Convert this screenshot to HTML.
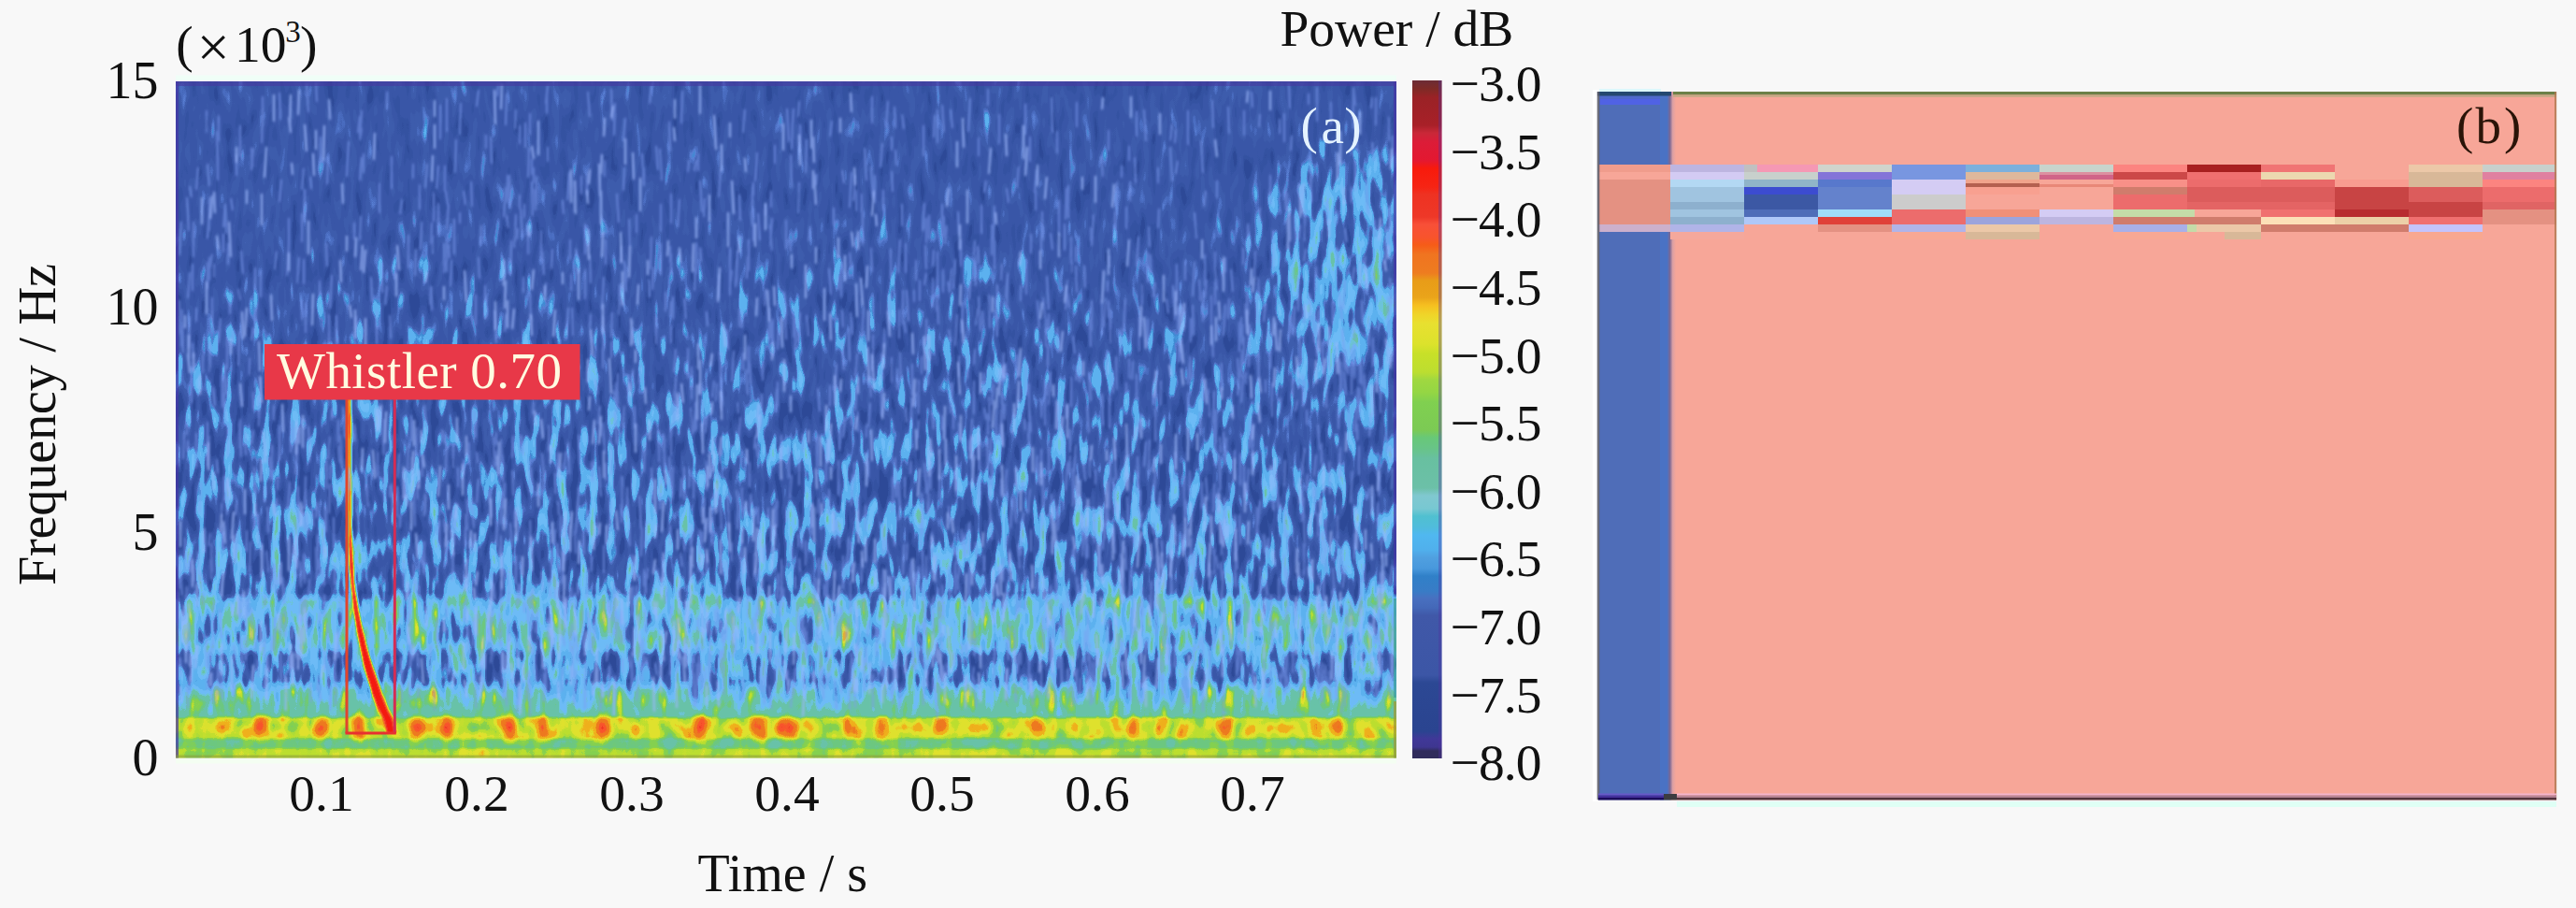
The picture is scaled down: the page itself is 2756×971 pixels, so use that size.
<!DOCTYPE html><html><head><meta charset="utf-8"><title>Whistler detection figure</title>
<style>html,body{margin:0;padding:0;background:#f8f8f8;overflow:hidden}svg{display:block}text{font-family:"Liberation Serif","Times New Roman",serif}</style></head><body>
<svg width="2756" height="971" viewBox="0 0 2756 971">
<defs>
<linearGradient id="cb" gradientUnits="userSpaceOnUse" x1="0" y1="87" x2="0" y2="811">
<stop offset="0.0000" stop-color="#6e2c34"/>
<stop offset="0.0110" stop-color="#7e2a26"/>
<stop offset="0.0235" stop-color="#9a2226"/>
<stop offset="0.0649" stop-color="#a82028"/>
<stop offset="0.0760" stop-color="#c82838"/>
<stop offset="0.0898" stop-color="#dc1c38"/>
<stop offset="0.1174" stop-color="#e41830"/>
<stop offset="0.1285" stop-color="#f81a0c"/>
<stop offset="0.1561" stop-color="#f62414"/>
<stop offset="0.1671" stop-color="#ee3222"/>
<stop offset="0.2003" stop-color="#ee3828"/>
<stop offset="0.2113" stop-color="#f85038"/>
<stop offset="0.2307" stop-color="#f8542c"/>
<stop offset="0.2417" stop-color="#f65c18"/>
<stop offset="0.2555" stop-color="#f07420"/>
<stop offset="0.2831" stop-color="#ee7c20"/>
<stop offset="0.2942" stop-color="#e89c18"/>
<stop offset="0.3191" stop-color="#eaa41a"/>
<stop offset="0.3301" stop-color="#f6be20"/>
<stop offset="0.3439" stop-color="#f0d428"/>
<stop offset="0.3577" stop-color="#e8e030"/>
<stop offset="0.3881" stop-color="#dce22c"/>
<stop offset="0.4019" stop-color="#c8e028"/>
<stop offset="0.4296" stop-color="#bcde30"/>
<stop offset="0.4406" stop-color="#a0d840"/>
<stop offset="0.4599" stop-color="#94d644"/>
<stop offset="0.4738" stop-color="#80d050"/>
<stop offset="0.5152" stop-color="#7cca54"/>
<stop offset="0.5262" stop-color="#68c878"/>
<stop offset="0.5428" stop-color="#68c488"/>
<stop offset="0.5566" stop-color="#68c0a0"/>
<stop offset="0.6008" stop-color="#6cc0a8"/>
<stop offset="0.6119" stop-color="#80c8d0"/>
<stop offset="0.6312" stop-color="#78c8d2"/>
<stop offset="0.6423" stop-color="#50c0d0"/>
<stop offset="0.6588" stop-color="#50bcdc"/>
<stop offset="0.6699" stop-color="#50b8f0"/>
<stop offset="0.6920" stop-color="#50b0ec"/>
<stop offset="0.7030" stop-color="#50a0e0"/>
<stop offset="0.7196" stop-color="#4898dc"/>
<stop offset="0.7307" stop-color="#3080c8"/>
<stop offset="0.7528" stop-color="#387cc6"/>
<stop offset="0.7638" stop-color="#4870c0"/>
<stop offset="0.7776" stop-color="#4468b8"/>
<stop offset="0.7887" stop-color="#4058a8"/>
<stop offset="0.8771" stop-color="#3c56a6"/>
<stop offset="0.8881" stop-color="#2c4894"/>
<stop offset="0.9599" stop-color="#2a4490"/>
<stop offset="0.9710" stop-color="#403898"/>
<stop offset="0.9834" stop-color="#3e3690"/>
<stop offset="0.9890" stop-color="#302c5c"/>
<stop offset="1.0000" stop-color="#302c5c"/>
</linearGradient>
<linearGradient id="pf" gradientUnits="userSpaceOnUse" x1="0" y1="87" x2="0" y2="811">
<stop offset="0.0000" stop-color="rgb(65,73,0)"/>
<stop offset="0.1975" stop-color="rgb(61,82,0)"/>
<stop offset="0.3356" stop-color="rgb(48,115,0)"/>
<stop offset="0.5014" stop-color="rgb(31,157,0)"/>
<stop offset="0.6257" stop-color="rgb(18,191,0)"/>
<stop offset="0.7555" stop-color="rgb(14,207,0)"/>
<stop offset="0.7693" stop-color="rgb(63,191,0)"/>
<stop offset="0.8356" stop-color="rgb(63,191,0)"/>
<stop offset="0.8494" stop-color="rgb(21,207,0)"/>
<stop offset="0.8854" stop-color="rgb(23,207,0)"/>
<stop offset="0.9019" stop-color="rgb(71,172,19)"/>
<stop offset="0.9185" stop-color="rgb(113,105,29)"/>
<stop offset="0.9365" stop-color="rgb(136,57,38)"/>
<stop offset="0.9420" stop-color="rgb(173,23,57)"/>
<stop offset="0.9682" stop-color="rgb(173,23,57)"/>
<stop offset="0.9738" stop-color="rgb(164,23,38)"/>
<stop offset="0.9834" stop-color="rgb(164,23,38)"/>
<stop offset="0.9876" stop-color="rgb(178,23,38)"/>
<stop offset="1.0000" stop-color="rgb(180,23,38)"/>
</linearGradient>
<radialGradient id="rc"><stop offset="0" stop-color="rgb(45,182,0)" stop-opacity="1"/><stop offset="0.55" stop-color="rgb(42,182,0)" stop-opacity="0.8"/><stop offset="1" stop-color="rgb(34,172,0)" stop-opacity="0"/></radialGradient>
<radialGradient id="dot"><stop offset="0" stop-color="rgb(237,15,15)" stop-opacity="1"/><stop offset="0.45" stop-color="rgb(215,19,29)" stop-opacity="0.9"/><stop offset="1" stop-color="rgb(191,23,34)" stop-opacity="0"/></radialGradient>
<radialGradient id="dot3"><stop offset="0" stop-color="rgb(228,15,15)" stop-opacity="1"/><stop offset="0.5" stop-color="rgb(209,19,29)" stop-opacity="0.9"/><stop offset="1" stop-color="rgb(193,23,34)" stop-opacity="0"/></radialGradient>
<radialGradient id="dot2"><stop offset="0" stop-color="rgb(208,19,29)" stop-opacity="1"/><stop offset="1" stop-color="rgb(191,23,34)" stop-opacity="0"/></radialGradient>
<clipPath id="cpa"><rect x="188" y="87" width="1306" height="723.5"/></clipPath>
<filter id="spec" filterUnits="userSpaceOnUse" x="188" y="87" width="1306" height="724.0" color-interpolation-filters="sRGB">
<feTurbulence type="fractalNoise" baseFrequency="0.1 0.026" numOctaves="2" seed="11" result="n1"/>
<feColorMatrix in="n1" type="matrix" values="1 0 0 0 0 1 0 0 0 0 1 0 0 0 0 0 0 0 0 1" result="g1"/>
<feTurbulence type="fractalNoise" baseFrequency="0.055 0.07" numOctaves="1" seed="4" result="n2"/>
<feColorMatrix in="n2" type="matrix" values="1 0 0 0 0 1 0 0 0 0 1 0 0 0 0 0 0 0 0 1" result="g2"/>
<feColorMatrix in="SourceGraphic" type="matrix" values="0 1 0 0 0 0 1 0 0 0 0 1 0 0 0 0 0 0 0 1" result="a1"/>
<feColorMatrix in="SourceGraphic" type="matrix" values="0 0 1 0 0 0 0 1 0 0 0 0 1 0 0 0 0 0 0 1" result="a2"/>
<feColorMatrix in="SourceGraphic" type="matrix" values="1 0 0 0 0 1 0 0 0 0 1 0 0 0 0 0 0 0 0 1" result="r"/>
<feComposite in="g1" in2="a1" operator="arithmetic" k1="1" k2="0" k3="0" k4="0" result="p1"/>
<feComposite in="g2" in2="a2" operator="arithmetic" k1="1" k2="0" k3="0" k4="0" result="p2"/>
<feComposite in="p1" in2="p2" operator="arithmetic" k1="0" k2="1" k3="1" k4="0" result="p"/>
<feComposite in="p" in2="r" operator="arithmetic" k1="0" k2="1" k3="1" k4="-0.3" result="v"/>
<feComponentTransfer in="v"><feFuncR type="table" tableValues="0.18 0.18 0.18 0.18 0.188 0.204 0.204 0.204 0.204 0.204 0.21 0.224 0.224 0.224 0.224 0.224 0.224 0.224 0.224 0.24 0.243 0.243 0.243 0.243 0.243 0.243 0.275 0.29 0.29 0.332 0.353 0.283 0.243 0.302 0.361 0.361 0.361 0.361 0.361 0.361 0.361 0.361 0.361 0.361 0.408 0.431 0.431 0.431 0.431 0.431 0.431 0.431 0.431 0.431 0.431 0.425 0.424 0.424 0.424 0.421 0.408 0.408 0.408 0.408 0.408 0.408 0.408 0.408 0.408 0.408 0.408 0.41 0.424 0.424 0.424 0.424 0.455 0.518 0.518 0.518 0.518 0.627 0.737 0.737 0.737 0.737 0.831 0.878 0.878 0.878 0.878 0.878 0.92 0.941 0.941 0.941 0.941 0.941 0.936 0.933 0.933 0.933 0.933 0.933 0.959 0.973 0.973 0.973 0.973 0.94 0.933 0.933 0.933 0.937 0.957 0.957 0.957 0.957 0.957 0.957 0.957 0.957 0.957 0.957 0.957 0.957 0.957 0.957 0.957 0.957 0.957 0.957 0.957 0.957 0.957 0.957 0.957 0.957 0.957 0.957 0.957 0.957 0.957 0.957 0.957 0.957 0.957 0.957 0.957 0.957 0.957 0.957 0.957 0.957 0.957 0.957 0.957 0.957 0.957 0.957 0.957"/><feFuncG type="table" tableValues="0.29 0.29 0.29 0.29 0.301 0.322 0.322 0.322 0.322 0.322 0.328 0.341 0.341 0.341 0.341 0.341 0.341 0.341 0.341 0.358 0.361 0.361 0.361 0.361 0.361 0.361 0.403 0.424 0.424 0.476 0.502 0.532 0.549 0.624 0.698 0.698 0.698 0.698 0.698 0.698 0.698 0.698 0.698 0.698 0.724 0.737 0.737 0.737 0.737 0.737 0.737 0.737 0.737 0.737 0.737 0.763 0.769 0.769 0.769 0.767 0.761 0.761 0.761 0.761 0.761 0.761 0.761 0.761 0.761 0.761 0.761 0.765 0.784 0.784 0.784 0.784 0.795 0.816 0.816 0.816 0.816 0.843 0.871 0.871 0.871 0.871 0.881 0.886 0.886 0.886 0.886 0.886 0.756 0.69 0.69 0.69 0.69 0.69 0.549 0.478 0.478 0.478 0.478 0.478 0.379 0.329 0.329 0.329 0.329 0.225 0.204 0.204 0.204 0.187 0.102 0.102 0.102 0.102 0.102 0.102 0.102 0.102 0.102 0.102 0.102 0.102 0.102 0.102 0.102 0.102 0.102 0.102 0.102 0.102 0.102 0.102 0.102 0.102 0.102 0.102 0.102 0.102 0.102 0.102 0.102 0.102 0.102 0.102 0.102 0.102 0.102 0.102 0.102 0.102 0.102 0.102 0.102 0.102 0.102 0.102 0.102"/><feFuncB type="table" tableValues="0.596 0.596 0.596 0.596 0.609 0.635 0.635 0.635 0.635 0.635 0.642 0.655 0.655 0.655 0.655 0.655 0.655 0.655 0.655 0.671 0.675 0.675 0.675 0.675 0.675 0.675 0.727 0.753 0.753 0.805 0.831 0.831 0.831 0.886 0.941 0.941 0.941 0.941 0.941 0.941 0.941 0.941 0.941 0.941 0.957 0.965 0.965 0.965 0.965 0.965 0.965 0.965 0.965 0.965 0.965 0.867 0.847 0.847 0.847 0.816 0.659 0.659 0.659 0.659 0.659 0.659 0.659 0.659 0.659 0.659 0.659 0.633 0.502 0.502 0.502 0.502 0.439 0.314 0.314 0.314 0.314 0.251 0.188 0.188 0.188 0.188 0.183 0.18 0.18 0.18 0.18 0.18 0.133 0.11 0.11 0.11 0.11 0.11 0.12 0.125 0.125 0.125 0.125 0.125 0.157 0.173 0.173 0.173 0.173 0.146 0.141 0.141 0.141 0.128 0.063 0.063 0.063 0.063 0.063 0.063 0.063 0.063 0.063 0.063 0.063 0.063 0.063 0.063 0.063 0.063 0.063 0.063 0.063 0.063 0.063 0.063 0.063 0.063 0.063 0.063 0.063 0.063 0.063 0.063 0.063 0.063 0.063 0.063 0.063 0.063 0.063 0.063 0.063 0.063 0.063 0.063 0.063 0.063 0.063 0.063 0.063"/></feComponentTransfer>
</filter>
<filter id="b3" x="-50%" y="-5%" width="200%" height="110%"><feGaussianBlur stdDeviation="0.8"/></filter>
<filter id="b4" filterUnits="userSpaceOnUse" x="180" y="80" width="1320" height="740"><feGaussianBlur stdDeviation="0.9 1.5"/></filter>
</defs>
<rect width="2756" height="971" fill="#f8f8f8"/>
<g clip-path="url(#cpa)">
<g filter="url(#spec)">
<rect x="178" y="77" width="1326" height="743.5" fill="url(#pf)"/>
<ellipse cx="1445" cy="290" rx="125" ry="165" fill="url(#rc)"/>
<ellipse cx="239" cy="778" rx="11" ry="14" fill="url(#dot2)"/>
<ellipse cx="279" cy="778" rx="14" ry="19" fill="url(#dot)" fill-opacity="1.00"/>
<ellipse cx="344" cy="778" rx="13" ry="18" fill="url(#dot)" fill-opacity="0.80"/>
<ellipse cx="383" cy="778" rx="14" ry="19" fill="url(#dot)" fill-opacity="0.90"/>
<ellipse cx="447" cy="778" rx="14" ry="19" fill="url(#dot)" fill-opacity="0.90"/>
<ellipse cx="477" cy="778" rx="14" ry="19" fill="url(#dot)" fill-opacity="0.90"/>
<ellipse cx="545" cy="778" rx="15" ry="20" fill="url(#dot)" fill-opacity="1.00"/>
<ellipse cx="580" cy="778" rx="14" ry="19" fill="url(#dot)" fill-opacity="0.90"/>
<ellipse cx="645" cy="778" rx="15" ry="20" fill="url(#dot)" fill-opacity="1.00"/>
<ellipse cx="682" cy="778" rx="11" ry="14" fill="url(#dot2)"/>
<ellipse cx="749" cy="778" rx="15" ry="20" fill="url(#dot)" fill-opacity="1.00"/>
<ellipse cx="813" cy="778" rx="14" ry="19" fill="url(#dot)" fill-opacity="0.90"/>
<ellipse cx="839" cy="778" rx="14" ry="19" fill="url(#dot)" fill-opacity="0.90"/>
<ellipse cx="848" cy="778" rx="11" ry="15" fill="url(#dot3)" fill-opacity="0.80"/>
<ellipse cx="909" cy="778" rx="11" ry="15" fill="url(#dot3)" fill-opacity="0.90"/>
<ellipse cx="944" cy="778" rx="12" ry="16" fill="url(#dot3)" fill-opacity="1.00"/>
<ellipse cx="1006" cy="778" rx="12" ry="16" fill="url(#dot3)" fill-opacity="1.00"/>
<ellipse cx="1040" cy="778" rx="11" ry="14" fill="url(#dot2)"/>
<ellipse cx="1111" cy="778" rx="12" ry="16" fill="url(#dot3)" fill-opacity="1.00"/>
<ellipse cx="1150" cy="778" rx="11" ry="14" fill="url(#dot2)"/>
<ellipse cx="1211" cy="778" rx="12" ry="16" fill="url(#dot3)" fill-opacity="1.00"/>
<ellipse cx="1240" cy="778" rx="11" ry="14" fill="url(#dot2)"/>
<ellipse cx="1309" cy="778" rx="12" ry="16" fill="url(#dot3)" fill-opacity="1.00"/>
<ellipse cx="1340" cy="778" rx="11" ry="14" fill="url(#dot2)"/>
<ellipse cx="1404" cy="778" rx="10" ry="14" fill="url(#dot3)" fill-opacity="0.70"/>
<ellipse cx="1429" cy="778" rx="11" ry="15" fill="url(#dot3)" fill-opacity="0.80"/>
<g filter="url(#b3)">
<path d="M371 425 L371.5 560 C372 600 373 615 375 632 C378 660 381 676 385 694 C388 710 391 722 395 735 C399 748 403 758 408 769 L413 784 L425 784 L422 769 C416 758 411 746 407 733 C401 715 397 705 393 690 C388 670 385 655 381 630 C379 610 378 590 377 560 L376 425 Z" fill="rgb(208,38,0)"/>
<path d="M372.3 425 L372.8 560 C373.5 600 374.5 615 376.5 632 C379 660 382 676 386 694 C389 710 392.5 722 396.5 735 C400 748 405 758 410 769 L414 784 L423 784 L420 769 C414 758 409 746 405 733 C399.5 715 395.5 705 391.5 690 C387 670 383.5 655 379.5 630 C377.5 610 376.5 590 375.7 560 L374.7 425 Z" fill="rgb(231,23,0)"/>
<path d="M374 560 C375 600 376 615 377.5 632 C380 660 383 676 387 694 C390 710 393.5 722 397.5 735 C401 748 406 758 411 769 L415 784 L422 784 L419 769 C413 758 408 746 404 733 C398.5 715 394.5 705 390.5 690 C386 670 382.5 655 378.8 630 C377 610 376 590 375 560 Z" fill="rgb(255,11,0)"/>
</g>
</g>
<g fill="none" filter="url(#b4)"><path stroke="#7e9cf0" stroke-opacity="0.5" stroke-width="2.6" d="M1436 351l2 26M238 401l0 35M1426 607l2 35M778 352l1 22M1125 104l1 38M1340 710l1 25M567 121l0 23M1438 397l2 26M666 704l0 16M1122 335l0 19M556 134l0 20M1445 641l2 28M1101 714l-1 26M803 528l1 25M957 114l1 23M824 240l2 28M1124 398l-2 35M1142 497l-2 28M1435 387l0 30M500 670l2 30M759 697l0 28M319 520l0 37M843 544l-1 13M268 579l-1 33M856 133l0 30M952 315l-2 19M1402 190l1 26M1416 716l-2 36M535 679l1 13M718 322l-1 17M1156 725l-1 18M350 667l1 18M195 331l-1 29M672 400l1 33M993 693l-1 29M1487 477l2 18M641 499l2 32M762 553l-2 18M954 382l0 27M543 187l0 30M387 118l-2 28M506 436l0 28M881 590l0 16M1383 405l0 20M1161 674l-1 34M914 494l0 21M756 493l0 32M469 217l0 35M652 712l0 34M618 535l-2 35M1461 299l1 16M1103 721l0 25M806 195l0 14M1004 722l2 20M457 509l0 16M633 595l0 16M228 414l2 20M999 637l-2 16M1435 586l1 28M1377 723l2 14M1188 486l-1 38M272 499l1 37M826 647l-1 19M1191 511l2 22M293 433l0 17M601 587l2 28M1359 359l0 35M1369 720l2 14M967 627l-1 19M1009 648l0 15M1354 406l0 14M626 239l0 33M875 464l-1 36M816 707l-1 34M584 709l0 32M516 719l1 21M685 686l-2 21M707 218l0 30M1469 361l0 31M1451 436l-1 26M1174 700l-2 14M1159 494l2 20M1219 339l0 37M811 228l2 29M210 463l0 37M1028 256l0 29M819 218l0 13M1433 312l1 20M1327 650l-2 35M238 568l1 24M1273 381l1 25M1409 363l0 19M791 208l1 28M1095 548l-2 25M1309 610l-2 26M683 722l-2 27M455 528l-1 24M987 664l2 15M1037 470l0 12M1026 380l0 23M597 536l1 15M1142 314l2 15M771 376l0 27M294 603l2 33M1290 204l-2 17M1321 481l0 33M1230 636l2 24M345 609l2 17M1214 168l1 28M1307 557l0 24M579 247l0 33M229 643l-2 26M330 456l1 16M945 203l0 22M1224 683l2 17M509 722l0 35M884 488l0 27M1120 410l0 13M1416 567l-1 18M897 492l0 38M1430 264l2 18M1388 428l-2 12M631 667l0 28M244 453l0 36M626 304l0 16M918 440l0 22M1242 407l0 27M1354 620l2 17M789 620l0 33M221 118l0 24M1103 250l0 21M1101 410l0 38M427 485l-2 26M1378 644l-2 20M988 231l0 15M946 708l2 36M1204 319l-2 36M478 473l-1 31M781 291l0 25M760 682l0 30M1422 493l1 35M697 500l1 35M1226 472l-2 27M751 428l2 26M529 486l1 12M756 592l0 21M301 192l-2 24M1357 575l-1 22M552 117l-1 21M1015 605l1 34M604 644l0 33M901 331l1 19M212 179l-2 24M1436 727l-1 36M354 497l-1 16M565 638l0 29M1346 296l1 24M490 500l0 21M957 570l0 14M201 471l0 13M1268 726l0 27M1265 572l1 17M819 722l0 13M1268 714l0 16M971 672l2 14M486 234l0 38M997 440l2 19M677 627l-1 32M835 627l0 32M911 428l0 27M855 108l-1 17M1086 731l1 20M679 434l0 24M232 491l1 15M567 313l1 29M1253 577l0 32M590 587l0 36M309 262l-2 33M989 648l2 33M1047 317l2 37M1236 436l0 36M900 725l0 16M615 674l-1 20M1173 708l-2 25M1261 328l-1 26M425 520l0 33M603 603l-2 21M1115 548l0 26M1474 537l0 28M1151 284l1 29M347 693l1 24M1042 407l0 36M1126 679l1 13M1142 631l1 20M857 678l-2 28M838 629l0 21M271 419l0 19M1183 540l-1 37M1114 480l0 30M1193 226l0 29M1151 476l-2 30M1427 639l-1 17M309 233l0 29M582 503l-2 26M1078 292l-1 37M1195 195l-1 30M1208 384l0 21M1055 193l-2 13M300 697l1 32M1389 396l1 19M878 711l-1 27M888 648l0 30M1090 178l-2 23M1336 501l-2 30M910 334l2 24M549 466l-1 24M227 272l-2 14M1008 444l0 16M203 338l-1 34M1375 492l-1 28M1150 584l-2 21M1032 571l0 25M1205 221l0 24M836 465l0 28M1098 389l0 34M200 211l2 36M1114 710l0 33M754 713l1 23M725 661l0 36M629 608l-1 31M692 557l-2 29M1443 435l0 23M1206 531l1 28M227 719l0 32M1109 181l-2 25M541 200l-2 32M567 730l0 37M658 110l-1 35M1060 468l0 26M1243 578l0 16M1069 122l0 32M671 521l1 37M922 597l0 26M1370 425l-2 18M657 623l0 19M1312 468l-1 29M800 628l1 33M1139 239l0 29M1030 576l2 13M1170 723l-1 29M207 604l1 18M911 579l0 33M606 639l0 18M958 509l1 23M1228 683l-2 14M1249 668l0 34M1301 594l2 14M440 687l-1 26M1210 609l-2 32M1092 723l1 13M240 509l0 17M631 272l1 31M723 403l-1 31M831 415l-1 26M474 461l2 14M1092 696l0 15M435 520l0 14M203 593l-2 15M1237 658l0 21M1368 618l0 26M1124 626l0 35M546 559l2 27M770 661l2 20M1385 644l0 14M871 629l-2 30M892 222l0 19M861 671l0 36M660 207l2 31M781 651l1 17M983 406l0 37M844 256l2 13M701 709l2 13M256 452l2 37M1128 720l0 32M1218 645l-2 28M768 505l-1 28M690 652l1 24M600 561l0 14M1461 274l-2 14M1216 400l0 27M684 679l1 23M851 714l-2 29M589 674l1 31M509 315l0 33M560 296l0 17M1486 720l1 28M1193 479l1 34M1138 654l0 31M1037 558l-1 35M255 309l2 12M281 103l0 32M895 647l1 28M739 711l-2 35M541 726l1 29M1328 695l2 34M684 680l1 15M788 278l-1 29M1448 341l1 22M1440 374l2 26M863 675l0 26M207 237l0 38M677 395l0 21M1409 703l2 37M1348 222l-1 16M231 732l0 21M348 541l1 28M840 714l0 14M672 701l2 13M1114 250l0 20M878 696l-1 28M616 266l2 14M1374 121l0 31M645 338l1 35M540 729l-2 19M1015 352l2 13M505 532l-2 14M1335 239l1 30M851 340l0 33M932 178l2 33M202 590l0 22M475 260l0 24M732 499l0 36M699 286l-1 24M1019 581l2 13M1261 365l0 23M683 353l-1 20M1362 246l0 28M1236 302l-2 16M512 512l-2 26M794 521l0 26M925 158l2 35M1255 305l2 37M1370 539l-2 17M471 112l0 37M360 337l0 35M477 204l2 15M486 542l-1 14M814 638l-1 21M596 581l2 31M301 657l-1 23M729 511l-1 21M234 719l-2 24M623 652l1 36M986 683l1 27M536 621l0 32M1124 405l0 14M1339 98l1 17M244 268l0 15M867 538l1 34M1419 402l0 34M876 628l0 37M705 460l0 34M998 297l0 32M934 721l0 37M1260 172l-2 14M805 661l0 18M512 96l-2 18M222 451l0 38M785 375l-2 33M958 489l0 34M1152 109l0 27M628 184l0 25M916 203l0 23M682 638l2 27M809 655l0 14M1284 682l-2 13M774 600l0 15M1069 604l-2 32M1395 550l1 35M419 517l1 33M1375 715l0 27M1393 525l2 34M785 656l-2 34M751 569l-1 15M1293 642l2 15M296 269l-2 19M1057 95l0 18M953 266l0 31M254 568l-2 28M843 717l-1 16M294 660l0 26M1063 707l0 32M1310 532l0 28M1485 327l1 33M328 548l1 24M536 535l0 26M955 510l0 37M1214 571l0 15M842 116l2 36M857 660l0 19M1116 508l0 35M933 103l0 29M666 509l0 25M1421 374l2 22M1044 580l1 15M226 581l1 30M257 134l0 34M322 644l0 21M561 643l0 12M1425 631l2 17M1033 688l2 16M340 572l0 37M334 548l1 15M1022 505l1 25M435 502l-1 33M747 164l0 19M687 564l-1 31M659 409l1 32M1119 340l0 31M1047 147l0 20M210 329l0 15M976 389l0 34M462 306l0 26M769 293l0 26M277 422l0 34M767 639l2 27M1375 203l1 22M480 261l1 15M1345 542l0 32M310 515l-2 30M658 440l2 35M531 462l0 14M712 312l0 21M646 296l-2 35M851 616l0 14M954 617l0 21M284 636l-1 12M917 413l-2 26M1146 253l0 29M1017 409l0 33M1278 227l2 28M648 256l0 27M987 624l2 36M597 484l0 25M980 612l0 15M1267 529l0 26M486 547l0 36M1324 383l2 34M915 187l-2 28M1115 226l0 29M1434 478l0 35M1001 594l0 29M483 278l-1 28M887 287l2 28M1275 575l-2 30M824 329l-2 36M1022 601l0 35M1446 200l0 17M1403 606l0 18M808 466l-1 14M1395 532l-2 26M1135 702l1 30M1228 270l0 32M955 728l-2 15M1307 634l0 33M602 713l-1 26M841 235l0 32M1415 709l-2 26M606 556l-2 22M771 401l2 32M749 193l2 34M410 510l2 27M605 483l-2 20M529 332l2 35M1355 639l0 14M276 705l0 19M618 679l0 30M1191 560l2 32M1350 618l0 12M999 267l-1 18M1348 122l-1 14M1216 119l0 27M1199 592l2 27M1392 710l0 35M1329 374l-2 30M989 217l-2 30M454 433l2 27M840 331l1 32M1161 681l0 14M975 425l0 32M718 348l0 19M285 703l-2 33M428 551l0 14M1217 489l0 38M408 281l1 32M1399 507l-1 16M488 149l-1 36M1406 334l0 32M594 566l-1 16M1252 157l2 37M668 179l-1 25M1061 491l0 31M691 703l2 14M697 91l-2 20M343 146l0 35M632 335l-1 16M1044 681l-2 21M918 530l0 26M962 331l0 31M912 507l-1 34M241 390l0 32M1004 629l0 27M1237 619l0 26M587 619l2 20M1359 187l0 32M200 450l0 15M269 158l1 20M1304 486l2 38M1128 537l1 17M475 555l1 15M1416 619l0 37M1020 433l0 26M566 490l1 37M417 519l0 13M775 711l-1 32M798 395l2 27M659 645l-2 34M730 97l-1 35M1486 125l0 26M1449 285l-2 15M217 634l0 13M822 543l0 12M739 569l0 32M1278 589l0 27M284 668l-2 35M1236 632l0 16M783 580l0 20M642 434l-2 20M626 707l1 15M1110 495l1 22M1375 542l0 33M571 430l-1 13M253 538l-1 13M1007 696l-2 35M693 607l0 12M1300 269l0 19M1429 226l0 14M750 709l1 33M629 545l0 26M237 538l0 14M897 294l0 16M1378 612l-1 34M571 179l0 17M943 378l1 28M818 724l0 29M1177 578l0 13M1124 249l2 18M389 164l0 21M762 568l0 15M1337 347l-1 28M200 627l-1 14M1470 722l0 14M1108 204l0 21M528 467l1 33M1165 398l2 31M1252 602l2 34M437 251l0 36M1309 732l0 37M905 668l1 22M723 373l-2 25M1221 621l2 38M676 707l0 31M536 572l-2 21M536 469l2 28M1273 385l-2 26M657 637l-2 27M452 491l0 19M1269 535l-1 22M810 163l-2 31M965 218l0 24M1066 331l1 29M504 578l0 15M623 671l2 23M1240 595l0 34M989 403l0 15M469 177l-2 25M919 675l-2 25M721 428l0 26M420 465l0 16M740 392l0 35M225 570l-2 14M572 202l1 23M1394 493l-1 15M1146 403l0 32M622 188l0 20M215 612l0 17M446 457l-1 32M860 720l0 16M1297 107l1 30M206 367l1 16M1417 585l2 29M476 279l-1 13M1075 432l0 17M1448 686l0 23M1401 314l1 30M1043 274l1 32M1262 362l2 24M1449 367l0 38M347 556l-2 37M837 604l-1 33M965 122l2 16M1078 624l-2 29M717 263l0 18M1405 515l0 18M839 312l2 26M668 434l-2 23M1294 692l0 37M1448 114l0 24M558 466l2 21M963 542l-2 15M1152 715l-1 38M194 347l0 24M1281 641l-2 20M1059 546l2 31M855 195l-1 33M856 334l-2 32M266 630l0 29M646 640l0 27M572 711l1 18M654 478l0 30M795 725l0 23M557 223l2 31M1397 266l-2 13M528 624l2 17M1285 150l2 35M483 549l0 18M1471 670l0 19M1333 398l0 13M848 131l-1 29M1470 289l0 13M1187 273l0 13M1104 621l-2 14M1456 388l1 24M1296 316l0 32M1317 288l2 24M247 212l2 13M1185 376l-1 27M1340 463l0 35M1360 636l-1 38M770 376l1 14M1291 299l-2 20M686 712l1 17M930 402l2 23M507 660l-1 31M314 457l0 17M1058 424l1 26M1274 730l0 33M657 418l2 13M1448 94l-1 33M222 723l0 15M567 666l1 33M1042 713l-2 15M1024 336l-2 34M1401 167l2 27M1118 407l0 37M1182 557l-2 31M373 151l-2 38M1219 540l2 25M326 609l0 15M587 464l0 19M468 660l-1 26M1337 651l-2 26M1315 319l-1 22M285 589l2 23M795 599l-2 27M608 473l1 34M478 105l0 36M1299 517l-1 31M990 269l1 19M362 476l1 19M1219 728l0 24M819 309l-1 18M520 314l0 27M876 597l0 29M826 233l-2 30M1289 272l0 34M430 709l0 13M1126 692l-1 30M1331 498l0 35M1209 194l0 21M831 535l0 29M1257 483l0 32M991 292l-2 13M983 449l-1 20M349 493l1 30M1061 240l0 33M1131 350l2 27M414 306l-2 20M580 268l2 26M1326 344l0 32M1330 400l-2 31M1477 627l0 19M855 488l0 31M1025 226l1 26M271 460l-2 15M242 514l-2 22M847 508l-2 25M896 556l2 30M473 459l2 14M1240 223l-1 21M570 628l0 34M580 484l2 26M1377 206l0 17M1053 594l0 17M1098 641l-2 12M1467 441l-2 26M651 641l1 20M217 378l0 21M1432 436l0 23M948 575l1 16M456 531l-1 18M1077 201l2 16M321 550l0 14M385 124l-2 18M794 333l0 18M1412 644l-1 28M1364 713l2 13M1419 726l2 17M963 376l1 33M1199 619l0 28M1269 614l2 25M454 591l0 24M1209 719l1 30M652 718l-1 34M404 483l0 27M1439 605l-2 24M739 436l2 29M1204 584l1 26M1179 421l1 34M1465 522l-2 12M1257 684l0 30M612 667l0 17M616 716l-2 38M1476 690l2 33M227 318l0 38M1336 359l0 33M1259 282l0 31M232 140l1 38M241 218l-2 25M547 257l-1 37M602 591l-1 19M562 131l0 27M1083 534l-2 31M728 591l2 15M1017 117l2 20M520 144l0 15M243 536l0 14M554 244l-1 12M636 658l0 25M295 671l-2 25M1222 304l0 22M446 620l2 26M1245 612l2 16M222 280l0 29M885 470l-1 24M749 265l1 15M1186 139l0 22M358 717l0 14M1166 490l0 21M635 492l-1 23M1010 231l0 22M1072 282l-1 18M500 534l0 33M1078 714l-1 37M1040 448l-2 30M1322 590l-1 34M1101 435l2 27M565 718l-2 31M859 659l0 29M1275 654l1 17M895 389l-2 28M1321 551l1 27M1378 570l0 23M960 394l0 23M1276 612l0 18M1328 339l-1 21M1021 698l0 14M1072 440l0 36M741 560l-1 30M1133 214l0 37M744 438l-2 20M1127 659l0 38M854 646l-1 29M1283 299l1 23M1236 418l-2 15M1066 437l0 36M764 407l-2 18M1114 427l0 20M451 237l-1 30M381 338l0 15M646 583l0 30M190 632l1 35M744 431l1 29M340 537l-2 17M887 698l0 30M1071 512l0 18M624 570l1 23M1136 659l0 21M1396 224l0 34M641 437l2 30M1046 263l1 19M430 213l-2 16M732 567l0 22M442 175l0 16M338 88l1 21M1475 495l0 36M234 124l0 27M586 157l0 16M847 581l0 20M647 171l0 18M1361 409l0 37M1208 156l0 16M359 692l-1 30M880 712l1 36M987 541l0 21M718 453l0 34M527 688l-2 21M442 603l2 31M496 491l0 16M758 663l2 27M544 609l0 35M1027 604l-2 18M555 624l-2 25M1418 555l1 37M661 660l-2 26M1302 193l0 19M568 500l2 28M1232 622l0 32M1041 668l-2 23M785 677l-1 26M936 187l0 30M753 532l1 34M933 377l0 20M1394 405l0 30M1019 409l-1 25M772 674l1 13M279 404l0 24M222 470l0 29M835 713l0 14M1478 572l0 25M1447 504l-2 34M477 640l1 20M1009 711l2 16M556 208l0 15M1142 299l-2 32M1311 325l-2 34M288 488l2 26M1006 677l2 18M858 566l0 21M1299 671l0 23M765 652l2 26M267 383l0 18M326 202l0 36M814 643l-2 14M1134 434l-2 26M239 250l0 20M676 697l0 35M886 596l0 23M1038 300l-1 20M1486 317l0 19M1038 105l-2 36M806 223l0 35M1157 547l0 25M846 165l1 36M1155 653l-2 19M552 232l-1 27M789 268l-1 35M718 271l0 23M635 663l1 23M1437 363l2 33M271 158l-2 24M687 164l2 35M629 654l2 29M773 695l-2 26M250 353l-2 14M771 181l-2 30M608 329l-2 31M1452 453l0 18M756 333l1 16M203 199l2 12M983 691l0 19M1193 533l0 16M1145 459l0 25M1148 359l2 19M1392 529l0 15M1474 725l-2 19M1222 548l-2 14M807 591l0 26M328 553l2 14M1433 384l1 38M1218 253l-2 32M236 340l-2 27M890 129l-2 17M943 706l0 17M1185 300l0 12M1377 699l-2 32M726 424l-2 21M1160 284l1 24M988 134l0 33M1111 615l0 22M665 539l0 20M956 707l0 31M960 687l0 25M1439 299l-2 32M467 560l0 12M876 533l-1 16M1172 502l0 16M1052 616l-1 29M707 260l0 34M1296 344l2 38M1290 510l2 25M527 649l-1 38M813 712l0 26M1317 662l0 30M732 319l2 22M615 568l1 24M226 590l1 22M1067 304l0 29M1396 479l-2 16M1101 451l0 21M327 637l1 37M411 448l-1 38M299 455l0 37M229 282l0 15M1065 691l-2 23M1230 470l-1 38M274 326l-1 32M353 517l-1 32M443 526l1 37M1271 118l0 37M830 700l0 37M1309 462l1 26M1102 523l-2 26M690 612l0 14M1287 311l0 33M1149 527l-2 15M749 409l0 13M1338 447l1 27M1490 501l-1 23M1097 111l0 33M587 454l0 28M872 617l0 32M778 526l1 22M1005 649l0 26M502 613l-2 14M983 606l-1 30M1119 733l1 12M1462 200l1 24M684 530l2 36M437 623l2 24M977 686l-1 29M1177 584l0 37M464 206l0 31M849 330l0 31M1121 369l0 23M235 651l2 32M893 726l2 32M1311 275l0 16M611 628l0 22M1253 619l0 16M1096 448l1 12M1341 453l0 25M1308 562l-1 32M436 654l1 27M669 283l1 19M504 194l1 27M728 697l0 14M626 288l0 30M998 650l1 28M1348 606l0 34M825 344l0 18M1048 508l0 26M1246 649l0 17M1170 544l1 37M224 696l0 21M197 473l-1 18M1076 509l1 27M1183 318l-2 32M1489 605l-2 20M1030 323l-1 33M1454 419l0 30M1327 485l0 34M1153 392l-2 15M823 733l2 25M430 703l0 25M975 598l-2 29M800 274l-1 24M887 523l0 27M347 636l0 24M813 608l-2 13M321 600l1 28M193 611l2 26M1046 511l2 31M352 703l-1 34M279 289l0 29M1424 663l2 21M1198 679l0 34M1085 533l2 26M1270 727l0 25M1155 378l0 31M341 722l-2 17M1407 521l0 30M1003 269l0 36M1163 562l-1 35M689 609l0 18M224 221l-2 34M790 539l-1 27M445 266l-1 29M269 650l0 35M536 674l-1 13M327 323l0 33M555 732l-2 30M1293 416l1 30M1102 146l0 27M233 709l0 27M1003 326l1 21M454 579l-1 33M681 626l0 24M1142 494l2 13M849 116l-1 16M1188 330l0 37M1213 651l2 27M1259 309l0 13M1120 627l0 32M392 518l2 24M1178 167l2 22M1307 388l0 29M1416 616l0 25M955 735l0 18M582 720l0 31M1433 484l0 26M221 680l0 34M353 467l-2 24M1047 466l1 37M540 516l-2 28M758 708l2 34M1395 325l0 21M542 100l-1 34M1013 241l-2 20M569 656l0 18M867 242l-2 16M1252 688l0 35M509 440l0 28M988 725l0 29M882 625l0 13M1029 688l1 21M273 286l0 24M1131 140l0 24M801 370l0 29M901 182l2 14M1323 690l0 32M205 591l-1 21M1331 118l0 27M1268 278l0 22M364 465l2 35M874 466l0 28M1076 388l0 20M323 640l0 24M781 265l0 34M251 731l-1 14M557 624l-2 22M1474 671l0 16M515 241l-1 22M1236 504l-2 32M1457 321l1 26M901 366l2 30M286 542l1 28M1080 587l0 21M809 474l2 15M1056 468l1 35M352 336l0 36M258 682l1 35M1077 574l-1 13M1452 126l0 36M1276 592l2 22M991 594l0 30M1304 522l0 27M1326 407l-2 16M1468 152l2 20M1400 726l0 24M744 286l-1 25M930 664l-2 17M313 670l-1 14M1490 145l0 29M717 562l0 21M195 345l1 32M925 704l0 36M1287 400l0 29M1166 718l2 33M778 599l0 24M496 204l2 15M1393 710l-2 30M446 696l2 18M1140 672l2 26M1271 419l0 22M874 186l-1 12M1034 724l0 16M1213 667l-1 17M661 399l0 33M241 218l1 32M536 527l0 30M1201 684l0 16M1300 462l0 36M1168 321l0 33M653 534l0 34M1286 727l1 34M548 503l1 27M585 100l0 22M1089 582l2 26M194 237l-2 36M934 358l0 30M1352 571l2 21M1326 693l-2 25M946 351l0 21M645 452l2 33M863 337l2 22M1432 588l0 31M1040 653l1 35M659 666l0 16M1414 474l0 22M292 679l-2 18M770 530l2 37M1164 582l0 15M775 671l0 36M1484 245l-2 37M1088 633l0 29M449 733l-2 12M569 194l1 37M634 682l0 18M958 160l1 17M1026 452l1 18M198 575l0 38M719 695l-2 27M1103 566l0 24M542 230l2 14M555 734l0 18M1455 632l-1 26M584 302l-1 13M215 516l-2 33M437 474l-1 31M227 689l-2 20M1484 244l2 26M357 553l0 34M574 188l0 31M1243 686l-1 20M535 656l0 23M681 229l0 20M212 590l1 33M691 614l0 21M1250 584l1 13M990 262l1 24M1354 324l-2 20M1050 219l0 31M1491 654l-2 37M461 690l-2 34M262 462l1 25M718 207l0 32M818 708l1 16M1471 235l0 19M996 492l0 32M1411 331l-2 28M827 341l0 26M825 204l0 18M362 672l0 32M1346 376l1 33M702 156l2 26M900 706l-1 13M618 623l1 13M222 175l2 24M954 146l0 15M911 698l-1 30M805 199l0 35M362 449l0 25M1362 534l1 12M1005 508l0 25M947 623l-1 35M1334 325l0 24M1456 618l0 38M747 660l0 17M1015 541l0 14M253 165l0 23M1164 649l0 30M648 495l0 19M1072 422l1 25M637 406l2 15M1008 112l2 29M256 354l-1 37M754 212l-1 20M1098 277l0 38M855 597l1 14M1154 625l0 23M684 687l0 30M1078 292l-2 27M379 238l0 18M553 683l1 22M1003 117l0 36M1300 288l2 22M1322 592l0 36M980 420l-1 15M298 614l0 12M364 639l2 27M493 110l-1 34M568 634l1 17M745 171l-2 12M875 415l2 25M833 613l-2 28M273 547l-1 18M702 338l0 30M644 731l-2 29M1120 644l0 31M1448 93l2 20M525 146l1 29M801 256l0 34M944 153l-2 26M914 734l1 23M485 590l-1 31M566 717l0 25M1120 295l2 36M984 299l0 23M1391 240l-2 16M1009 288l0 25M738 586l1 34M1454 477l0 31M1450 570l-1 28M834 695l0 33M664 652l2 14M722 411l-1 14M829 540l0 34M685 390l-1 20M441 718l0 17M610 256l0 22M1053 436l2 13M1063 410l-2 23M1477 413l0 29M1353 573l0 18M1164 675l-1 16M926 540l0 27M988 704l2 21M551 546l0 18M203 291l-2 28M1376 607l0 33M355 294l-2 36M969 260l0 32M1278 280l-2 37M986 381l0 19M1464 339l1 31M476 177l0 28M387 137l-2 13M991 341l0 24M429 704l1 19M1116 241l0 16M1132 541l0 27M1116 670l0 27M748 581l0 30M1018 287l-2 24M338 585l1 35M1163 435l2 28M885 605l0 33M264 640l-1 33M1233 560l2 12M257 448l0 31M931 431l-2 26M978 693l1 25M1381 337l-2 25M1170 229l-2 34M1394 401l0 13M1194 381l1 36M1177 705l1 23M927 453l0 15M1029 566l0 18M1166 700l-1 30M1343 268l-1 28M193 703l0 21M1093 557l-1 37M954 183l1 22M1415 365l0 32M1143 198l0 35M978 310l0 13M612 329l1 30M1426 322l0 24M1396 408l0 23M694 299l1 19M1275 613l0 14M1383 690l0 30M1085 672l1 35M1152 617l2 30M477 572l0 32M1141 201l-1 34M256 638l-1 23M1059 510l0 37M449 582l2 21M736 372l0 33M765 527l-2 18M961 515l2 31M788 524l2 24M1118 425l0 30M809 670l0 31M1468 104l-1 12M862 578l0 27M1239 179l0 17M911 184l-2 38M552 594l0 31M236 728l2 20M859 464l0 19M502 473l0 23M1459 604l0 19M1314 114l1 29M1025 614l0 17M1330 265l0 18M1360 710l-2 36M629 98l2 27M323 320l0 22M1454 415l1 25M818 582l0 19M673 234l1 30M524 657l-2 37M968 510l0 23M1187 697l0 25M1073 597l0 25M1307 662l2 38M1142 715l2 25M470 556l0 29M1348 535l-2 26M225 365l0 29M1455 382l0 28M658 723l0 30M829 155l0 20M703 609l2 12M579 611l2 21M751 722l1 13M923 227l0 35M959 703l1 23M441 688l1 18M1022 277l-2 32M1252 556l0 21M1100 463l2 18M970 310l2 34M463 252l0 20M305 653l0 28M1035 378l0 27M291 476l0 37M967 343l2 13M1246 666l-2 26M655 334l-1 27M958 658l0 24M447 733l1 14M533 91l-1 12M1369 127l0 16M1241 639l0 18M967 582l-1 33M1092 640l-2 14M1160 565l-2 30M964 735l-2 23M488 539l-1 26M276 549l1 37M600 551l0 18M1125 528l0 27M224 466l-2 25M689 179l0 16M1446 384l0 38M817 676l0 14M1267 509l0 22M1332 641l0 13M844 478l0 33M913 704l-1 37M1130 614l0 28M1420 213l0 27M659 645l0 16M524 523l2 31M296 533l-2 16M918 557l-1 13M224 211l0 36M531 482l0 16M998 724l1 15M626 720l0 38M320 275l-2 28M910 622l0 35M1477 675l0 19M710 464l0 19M1395 581l0 34M417 337l1 25M327 509l-1 35M1090 698l-2 22M1430 727l0 22M1043 257l-1 16M1148 587l0 25M1174 693l0 21M1212 569l2 18M566 157l-1 33M741 699l0 33M498 549l0 35M281 120l-1 33M791 330l0 20M924 328l-2 35M786 681l0 17M203 666l-2 30M246 323l0 13M432 598l0 30M1229 242l1 22M419 167l0 35M654 95l1 34M240 420l1 34M1300 300l0 26M1217 488l1 38M224 366l0 32M1167 243l0 15M1200 177l0 13M192 321l1 36M1329 346l0 22M663 304l-1 33M727 213l-2 30M1408 486l-2 23M908 575l-2 34M969 436l1 16M403 332l0 36M544 664l0 33M359 718l0 36M951 320l1 32M1006 642l0 20M1337 449l0 30M916 690l1 13M1244 707l0 36M199 676l2 15M690 473l-1 32M481 690l0 31M1366 519l2 25M848 727l-2 30M929 493l0 17M1110 487l-2 19M1001 731l2 38M771 407l1 32M1374 593l1 24M1382 145l-1 16M997 569l0 29M1014 301l2 12M250 690l2 15M633 494l1 19M1450 171l0 33M586 91l-2 20M738 501l-1 21M1278 689l-1 26M993 376l0 36M1475 631l0 36M244 260l0 16M228 662l0 32M1151 263l0 17M1418 711l1 19M355 437l0 12M197 462l0 18M1294 602l0 30M664 656l0 32M1487 221l2 29M575 651l-2 26M594 614l0 26M725 697l-1 32M233 168l0 25M1042 724l2 32M311 700l1 28M1486 222l0 33M994 527l0 20M1306 601l2 23M1431 551l0 26M1273 503l0 29M900 649l0 37M1092 305l0 17M1051 332l1 17M710 601l-2 22M537 597l2 19M1122 673l1 35M654 365l0 18M676 593l2 27M720 317l0 24M875 655l0 18M1074 377l-1 31M325 548l1 19M994 508l-2 36M1224 117l2 34M1462 200l2 30M994 230l0 26M1167 723l0 31M1145 487l-1 21M900 281l0 37M1472 104l0 30M1153 687l0 17M237 709l0 35M1445 371l2 20M987 537l0 35M1287 680l0 23M323 228l0 31M1064 220l-1 38M745 683l1 15M1116 318l2 22M1284 441l1 24M1199 351l0 29M522 525l2 14M1460 400l0 24M875 665l-2 29M943 424l0 21M902 594l0 36M192 595l0 35M986 527l0 20M1305 467l1 17M328 89l2 31M342 300l0 16M908 661l-2 29M1218 449l0 14M1166 340l1 31M1381 339l0 18M242 404l1 18M264 567l0 23M1389 296l0 37M358 604l0 21M1122 478l0 28M1484 471l0 13M191 477l0 22M1169 708l0 19M985 552l0 35M945 561l0 32M299 99l1 29M665 263l-1 19M946 713l-1 18M1000 123l-1 24M1077 502l-1 12M1299 587l0 27M1058 315l1 36M1205 409l0 12M1410 454l2 27M464 732l1 28M742 507l0 26M1430 728l-1 14M1003 305l-1 28M292 603l0 27M909 270l2 20M795 377l0 19M1162 556l0 22M510 483l1 12M756 444l-1 19M386 231l-1 26M325 277l0 27M325 639l0 16M832 408l0 27M332 468l-1 26M1441 659l-1 21M332 189l1 13M387 168l-2 25M716 488l1 35M331 619l-1 18M804 226l1 16M1088 379l0 26M561 218l0 15M302 617l2 29M258 268l2 25M449 197l0 27M1362 252l0 38M932 265l1 26M1441 652l0 19M1008 625l1 23M233 729l1 15M1053 399l0 20M512 275l1 23M1400 100l0 12M1361 664l0 33M1101 698l0 18M1132 430l0 13M811 542l0 19M1413 587l2 17M1053 640l-2 20M1110 321l2 30M673 560l1 24M1057 442l0 23M945 662l2 31M1274 340l0 26M567 556l1 33M908 350l1 36M1408 285l0 26M1326 550l1 33M462 238l-1 23M1064 257l0 32M987 589l0 30M1232 621l-2 28M1037 606l0 31M1440 732l-1 24M565 242l0 30M645 372l0 22M1046 329l-2 19M888 412l0 22M571 689l0 32M1453 414l-1 17M1439 244l2 15M604 573l0 29M1299 418l-1 35M526 611l-1 34M658 634l0 21M586 661l1 24M615 634l0 18M206 282l0 29M1148 733l-1 23M602 214l1 15M351 166l-1 31M1132 703l0 12M716 130l1 32M1413 570l2 17M325 180l-2 23M802 494l0 27M343 654l-2 13M1422 717l2 32M650 690l-1 17M619 465l2 32M1373 701l-1 24M669 666l-2 22M816 388l0 19M318 594l-2 23M259 636l-2 26M668 279l2 33M1276 326l1 33M271 350l-2 14M745 429l-2 33M1138 643l0 14M1210 650l1 33M611 293l0 18M541 336l-1 19M748 701l0 28M1385 230l2 31M1477 612l0 16M367 435l2 33M1385 327l-1 32M224 275l0 25M770 695l0 17M778 662l-2 22M1488 698l1 22M1269 719l-1 29M767 410l-1 19M192 703l0 14M318 477l-2 30M1209 712l-2 34M498 640l-2 24M332 730l1 21M1212 386l-1 20M1258 138l-1 15M812 628l-2 32M354 734l-1 26M538 487l0 28M312 450l-1 34M545 187l1 36M909 734l0 25M885 720l0 17M833 350l-1 24M1296 610l-2 20M1248 319l2 16M440 444l0 28M438 642l0 36M373 499l2 25M446 518l1 16M1220 639l2 37M863 149l-1 36M274 668l-1 28M904 446l-2 22M752 671l-1 26M1186 526l-1 36M1409 696l2 27M397 296l1 27M1186 321l0 19M815 421l-1 38M1379 89l1 27M437 728l2 18M511 655l0 26M802 388l1 23M1275 647l0 15M943 414l0 21M457 175l-2 26M1322 579l2 30M697 253l-1 35M1332 324l2 33M1187 424l0 34M515 703l1 31M1286 515l0 29M711 469l0 36M688 683l0 35M707 511l-1 34M1147 279l0 13M1241 525l-1 25M485 474l0 27M200 732l1 25M406 196l0 32M1166 688l-2 19M492 227l0 12M706 159l2 34M760 712l-1 23M992 536l1 16M1344 316l2 30M1352 706l2 30M284 519l-1 18M737 171l-1 13M1462 192l0 21M983 667l0 19M478 255l0 36M1220 524l0 16M1299 447l0 22M505 538l2 27M1094 512l0 14M497 615l0 18M613 691l0 34M379 454l1 18M1390 357l2 34M742 720l1 36M205 403l0 28M926 691l1 23M569 170l0 17M836 598l0 26M225 598l1 22M966 310l0 37M609 674l2 24M746 716l-1 37M792 446l-2 24M963 256l-2 36M745 259l0 34M1228 341l0 28M1254 133l-2 17M793 578l0 35M536 573l1 22M430 721l-1 32M924 635l0 19M922 207l0 20M1265 726l1 26M1301 438l0 36M602 677l2 14M1043 373l-1 17M1008 218l0 38M950 108l-2 28M317 558l0 37M469 672l-1 22M480 218l-2 27M1179 322l0 36M665 509l1 36M286 701l1 16M893 546l0 30M1071 438l-1 33M949 648l1 16M591 266l-1 22M899 448l-1 34M1187 521l0 24M532 555l-1 30M325 592l0 28M797 117l-2 25M975 493l-1 14M1190 398l1 23M423 284l0 15M263 680l0 26M749 566l0 29M1331 360l-1 30M438 676l0 26M846 583l2 25M780 546l0 22M1223 730l0 22M980 278l0 22M720 499l-1 35M342 598l1 20M789 430l1 12M1270 597l0 28M203 723l0 18M1077 683l2 23M1302 527l0 21M783 289l-2 15M917 378l-2 25M718 648l0 16M519 305l0 35M244 511l-1 30M1231 272l0 21M945 608l-2 34M1241 701l0 27M552 229l-2 36M1476 508l0 20M989 495l2 33M733 682l0 23M1104 727l1 27M619 521l-1 25M971 581l-1 18M243 360l0 35M713 627l-1 19M1013 709l2 16M1023 584l1 19M349 260l1 25M1410 549l0 25M341 731l2 20M1409 93l0 37M414 98l0 19M991 233l0 27M594 506l0 22M1424 109l0 24M751 568l-2 26M938 669l0 33M297 511l0 13M1398 438l0 16M461 306l-1 20M1165 716l0 25M609 184l-2 30M1148 501l0 37M557 465l0 19M1141 432l0 16M669 126l-2 25M940 672l1 12M1334 314l1 23M854 571l0 14M1116 659l-1 16M537 695l1 36M1434 324l2 19M746 709l-1 34M1080 665l0 34M1362 529l0 17M1184 661l1 27M1358 346l-2 16M1487 297l2 29M322 671l1 25"/><path stroke="#9cb8fc" stroke-opacity="0.6" stroke-width="3" d="M471 498l-2 33M1404 598l0 23M245 237l2 38M695 450l0 21M643 204l0 36M1080 591l2 30M921 694l1 23M886 637l-2 19M525 639l-2 23M312 174l1 13M250 547l-2 30M1363 339l-1 20M900 405l-1 14M452 486l2 14M285 157l-2 33M597 728l1 20M870 146l1 28M227 209l-2 25M1457 697l0 17M1221 327l-1 33M1339 287l-1 18M948 660l-2 14M1114 494l0 25M1484 649l-1 36M827 366l-1 19M583 305l0 16M823 626l-1 35M326 133l2 29M591 664l0 28M374 326l2 14M1028 444l0 28M1248 689l0 22M239 610l-2 29M292 538l2 14M348 584l0 13M693 278l0 16M771 418l1 31M554 703l1 12M1137 354l-2 22M508 570l0 20M280 582l0 36M1192 197l-2 25M1092 524l0 23M1351 715l0 29M859 710l0 19M1005 694l-2 16M628 203l1 15M1141 305l-2 19M726 633l1 24M726 660l0 29M504 567l-1 19M771 577l0 37M838 132l0 29M486 717l-2 19M1422 349l0 22M1237 575l2 22M311 688l0 27M1175 581l1 34M931 708l-1 34M873 501l1 22M878 655l-1 29M635 729l-1 15M1224 339l2 34M1095 134l0 36M1207 505l-1 20M725 420l0 31M788 669l2 14M1011 434l-1 36M1181 289l-2 35M665 640l1 28M1042 487l-2 35M1024 151l0 28M620 578l-1 25M861 731l-2 35M675 340l2 28M322 537l0 26M1123 724l-1 24M732 681l2 33M1070 394l-1 29M1411 345l0 32M914 720l0 19M1030 126l1 32M889 453l-2 38M1074 390l0 15M1193 645l0 22M1434 140l0 37M977 597l0 30M445 570l2 27M676 343l-1 27M1006 699l2 31M921 297l2 30M1137 445l-2 25M206 701l-2 29M1395 196l-2 33M1218 672l2 22M597 622l0 30M319 691l0 25M745 232l0 23M846 423l0 18M465 133l0 26M1378 232l0 35M1085 431l0 23M725 685l2 20M914 601l-2 22M751 645l1 38M282 461l2 34M721 136l1 15M797 169l1 15M318 677l0 27M824 673l0 34M1011 719l0 34M631 424l-1 15M1204 692l2 30M629 384l0 25M257 410l2 25M1214 639l0 31M465 107l0 18M639 714l0 20M1200 609l2 35M1360 498l0 27M929 332l0 33M759 485l1 26M559 595l0 21M214 401l0 21M509 649l0 30M674 263l-1 34M1481 278l2 12M1014 669l2 30M737 683l0 27M517 681l-2 33M917 545l2 36M916 643l1 31M1346 430l2 22M229 205l1 23M309 270l0 20M683 304l-1 22M448 502l0 21M206 598l0 30M973 664l0 28M306 724l0 36M1062 317l0 17M734 642l0 38M724 730l0 27M610 561l0 29M324 444l0 35M1127 411l0 13M884 433l0 29M1318 433l1 15M1170 630l0 31M762 378l-2 14M542 700l0 20M1468 411l1 34M708 618l0 23M1300 149l2 19M791 253l0 17M194 653l2 35M1009 668l0 13M946 420l-2 28M424 292l0 25M1182 701l0 23M1364 491l0 30M311 101l-1 35M910 99l1 21M1335 97l-1 13M1418 383l-2 18M1391 511l0 28M589 648l0 33M1263 326l0 32M218 565l0 26M221 301l0 35M1125 542l2 36M309 125l2 17M261 632l0 30M514 723l0 24M1388 586l-1 27M1244 603l0 29M915 688l2 21M1072 497l1 35M871 186l2 33M1391 197l0 36M239 557l2 24M320 456l0 19M798 536l0 16M827 544l-1 35M739 620l0 26M193 558l0 27M201 378l2 21M193 557l0 23M873 264l0 18M360 676l-2 30M779 227l0 37M489 539l-2 16M1105 478l0 27M842 671l-2 30M659 546l2 21M571 288l-2 22M280 491l-1 24M364 278l1 24M766 517l0 32M1379 222l1 36M1205 453l1 36M1099 157l-2 31M751 452l1 33M1180 104l-1 13M530 322l0 31M211 624l0 25M1159 386l0 16M810 593l-2 21M373 502l-2 35M277 365l1 32M737 642l-1 25M1316 664l1 21M1158 634l-1 23M399 481l2 31M1347 404l2 16M1468 702l0 16M1114 694l-2 25M1389 601l0 19M1455 280l0 27M391 340l0 31M335 314l-1 34M1483 591l0 15M1065 227l1 13M739 594l0 27M749 90l0 32M707 704l0 37M314 698l-1 35M1029 342l2 22M1387 638l-1 34M991 717l0 18M1258 464l0 38M1430 377l1 23M994 358l0 27M1163 726l0 22M889 499l0 14M712 503l1 15M605 640l0 32M451 460l0 14M928 284l-1 24M731 702l2 29M580 688l1 27M1387 381l2 22M1242 475l0 21M615 193l1 36M932 459l1 34M1092 372l-2 31M1049 691l0 24M1268 554l0 32M525 533l0 29M1272 700l1 36M1178 639l2 29M1158 551l0 14M1266 577l0 18M1028 304l-1 23M1309 275l0 37M682 658l2 30M980 459l1 22M806 544l0 35M1067 414l-1 23M1364 393l-1 21M1468 519l0 32M441 488l0 14M501 651l-2 16M499 598l0 34M812 431l-2 17M741 585l0 22M1035 203l0 36M259 333l1 30M326 650l0 37M770 286l-2 37M237 688l0 34M1256 550l1 33M772 467l-2 20M1483 362l2 19M876 619l-1 23M1342 296l-2 17M250 572l1 31M1296 551l0 28M443 690l-1 12M1120 189l-2 24M979 405l-2 30M828 576l-2 34M759 208l0 29M757 648l-2 29M244 511l0 13M656 113l-2 13M1424 568l-1 23M366 196l1 22M1489 159l-1 22M1172 188l0 29M197 647l1 29M946 655l-2 32M280 207l0 34M886 469l0 26M1221 446l0 23M1064 428l-2 30M1047 457l0 35M1295 580l-2 37M475 660l0 16M1202 597l-1 31M245 521l2 13M1040 477l1 27M1301 339l0 26M522 655l0 30M1073 392l0 12M947 609l0 28M1341 454l-1 16M1335 666l0 29M1142 432l0 37M1490 698l-1 36M1450 542l2 15M437 670l0 19M957 708l2 30M591 669l2 20M897 254l0 22M1391 660l0 29M774 346l2 25M1425 696l0 31M878 467l0 32M1419 637l-1 30M483 567l2 27M1221 568l-2 15M722 106l0 21M1018 697l0 23M273 537l0 15M293 101l0 29M550 330l-2 22M1338 649l0 27M539 277l0 29M1452 550l-1 38M324 670l-2 35M847 272l0 15M893 401l1 33M680 374l0 14M1489 371l-2 23M973 659l-1 33M536 592l1 38M1194 663l0 31M812 444l-2 24M569 156l2 14M1161 609l-2 34M756 554l-2 26M1063 607l-1 35M602 291l0 13M519 699l-1 17M1475 693l0 30M537 90l-1 27M699 724l1 37M813 566l2 36M534 472l0 35M752 542l0 18M647 126l-1 20M1251 390l2 13M200 658l0 18M911 248l2 16M969 698l0 23M763 467l-1 19M643 445l-2 30M797 585l0 29M629 245l1 33M1386 685l1 15M579 448l2 21M1304 528l0 20M669 148l0 28M815 618l-1 15M1245 655l-2 12M839 706l2 20M937 229l1 13M708 673l2 34M576 517l0 25M1237 396l-2 29M742 260l-1 31M1073 642l0 23M1110 176l0 23M997 573l0 13M413 440l-1 34M1238 619l0 33M408 433l-2 28M829 561l-1 21M747 367l0 28M346 711l-2 14M1350 652l-1 29M436 622l-1 20M1271 457l0 36M204 698l-1 15M1158 189l0 14M1267 324l-1 29M1411 639l0 15M388 262l-2 27M783 193l2 36M300 601l0 24M1037 658l0 37M553 542l-1 37M1431 163l0 30M998 678l0 36M844 726l-1 17M949 714l0 21M855 144l1 33M1123 653l0 15M1027 240l0 27M989 359l1 37M330 236l0 36M405 435l-2 27M321 657l-1 32M1076 143l1 24M1040 602l0 24M631 181l-1 16M887 691l0 12M917 726l0 15M1229 646l1 24M762 430l-1 13M1370 352l-1 24M317 592l0 16M1236 489l-2 16M1023 487l0 38M645 730l0 16M780 559l1 31M1077 715l-1 33M1074 634l0 31M1040 466l-2 25M729 410l2 21M752 592l-1 16M286 714l-1 35M391 267l-2 25M710 536l-2 33M764 123l2 37M254 635l0 23M1409 638l1 29M1473 396l0 24M680 600l-2 17M198 337l0 14M347 134l-1 38M810 564l-1 30M1038 729l0 15M381 254l-1 21M1290 714l0 34M674 628l-2 21M850 677l-1 34M1477 233l-2 24M1216 456l-2 15M869 538l0 26M1184 514l0 29M918 247l0 20M756 587l1 15M1479 591l0 35M1000 594l-1 17M893 610l-1 35M279 664l0 33M757 498l0 23M645 246l-1 29M652 383l2 38M808 239l0 25M317 450l0 36M677 163l1 29M1030 352l1 15M591 558l0 23M1307 414l0 13M1116 616l1 26M371 252l0 17M821 310l2 34M1469 702l0 12M1052 569l-1 16M232 252l2 15M1066 624l2 14M1408 385l0 25M489 446l0 28M1160 618l0 17M615 210l0 17M862 283l0 36M568 336l1 23M249 646l0 13M604 615l-1 36M543 321l0 30M278 402l2 29M1352 641l1 22M918 403l0 18M1402 672l2 17M1334 331l1 27M1281 463l0 19M264 203l0 15M497 727l2 19M1475 503l-1 22M1332 516l0 32M1208 256l-2 29M589 476l0 19M882 308l0 35M1192 468l1 24M768 728l1 28M576 129l0 37M1210 103l0 23M1441 462l-1 21M435 529l0 12M247 362l0 17M865 460l0 14M566 240l0 13M1263 362l1 15M560 709l0 21M892 655l-2 26M636 449l-2 26M951 616l2 33M1359 97l0 21M1002 684l0 20M403 438l0 18M1113 268l0 20M1148 573l2 14M917 445l-2 15M641 175l1 35M1455 119l0 25M1480 611l-1 36M1400 606l1 12M765 485l-2 20M202 645l1 15M572 439l1 16M594 331l-2 29M756 733l0 21M725 661l2 12M315 581l-1 20M651 644l1 35M868 128l0 31M1430 366l2 34M598 688l0 18M785 659l0 29M871 717l0 20M1322 565l0 35M1403 549l-2 23M984 501l-2 30M202 358l0 26M1305 672l1 26M1461 566l0 22M725 566l0 22M1457 650l-2 36M425 262l2 27M699 642l2 15M320 96l-1 27M237 550l-1 19M1486 373l-1 16M1086 437l-2 26M1429 700l1 29M1321 490l0 24M914 179l1 19M547 709l2 23M1063 648l0 20M211 689l-2 26M899 126l0 16M264 329l-2 31M532 487l1 21M1133 249l0 26M603 590l0 21M976 356l1 23M1239 704l-2 33M615 651l1 28M680 453l0 31M797 358l0 27M828 306l1 21M1201 707l0 29M1186 266l0 28M710 591l0 30M657 729l0 36M781 131l0 16M649 561l0 21M1422 660l-2 28M566 680l0 17M599 652l0 38M1060 158l-2 28M870 182l0 20M642 559l-1 13M1314 561l-1 14M1430 668l1 30M253 157l0 17M685 190l0 36M1164 533l-1 30M456 648l0 22M994 477l0 32M1305 555l1 27M1072 453l1 25M835 478l1 35M661 632l-1 20M760 542l0 27M1438 200l0 19M645 325l0 32M432 499l0 35M1049 398l0 23M703 643l-1 20M1433 708l1 16M380 331l0 31M1115 323l-2 18M1047 719l2 32M673 409l2 15M1015 201l-2 20M916 303l1 36M1178 542l1 26M1422 235l0 19M1364 343l2 32M1202 578l-2 31M1434 633l0 16M1311 554l-2 31M335 164l1 24M223 473l0 30M1413 533l0 29M1289 405l2 27M338 139l0 21M871 542l0 38M463 166l-1 28M1336 557l-1 25M496 687l0 30M1491 674l-1 27M1184 481l0 12M1155 513l0 27M772 154l0 29M898 626l-2 30M1304 322l1 20M538 697l0 22M511 611l-2 15M475 306l0 15M977 627l2 28M1190 564l1 35M794 563l0 18M636 560l-1 28M271 711l-2 36M1471 649l-2 31M619 286l0 35M1238 592l2 30M1173 678l2 34M1243 591l0 17M1365 661l0 21M401 142l-1 29M317 572l-1 27M721 664l0 36M1264 394l2 18M1034 613l-1 35M497 289l2 34M388 479l-1 25M644 165l-1 21M1286 256l0 21M480 518l0 27M1397 326l1 15M1343 723l0 33M937 609l0 21M912 609l1 13M529 96l1 37M1362 588l1 16M811 665l0 34M926 574l0 27M611 181l0 36M746 411l0 38M1199 607l-1 16M568 574l1 36M944 731l0 21M225 719l0 15M1087 500l1 26M262 523l0 27M702 561l-1 14M1467 581l1 17M680 594l-1 27M499 466l0 23M1005 480l0 33M1051 652l1 14M935 204l-2 27M290 315l1 28M639 693l-2 36M1018 553l2 17M1245 294l0 29M949 713l0 23M352 106l1 22M441 498l0 28M936 576l0 26M810 318l-1 20M904 273l0 28M1128 558l2 27M1219 572l-2 35M1308 693l0 31M611 712l0 21M726 617l1 27M819 217l0 29M1254 588l-2 29M440 536l0 31M946 628l1 35M1481 561l1 18M1196 536l0 21M248 701l0 37M1461 285l2 24M928 371l2 38M879 538l0 14M1258 311l0 26M1353 687l-1 18M1168 476l-1 16M777 651l-2 22M443 449l0 28M1410 626l2 30M1341 483l-1 25M1445 658l0 19M679 670l-1 32M933 379l2 37M1071 604l0 33M666 290l0 37M999 602l0 19M792 639l-2 17M888 335l1 29M451 704l2 27M612 547l-2 30M541 533l-2 34M690 414l1 18M207 377l0 22M799 480l0 16M701 512l0 38M1296 348l0 21M1264 368l2 21M495 496l0 34M632 352l2 28M193 734l1 17M1225 700l-2 36M298 655l0 19M1392 717l0 12M628 675l-2 26M228 504l0 21M1274 537l0 36M1126 683l0 36M1179 603l1 21M715 257l-1 17M526 621l0 27M1241 121l0 23M950 333l2 27M199 673l0 36M701 598l-2 16M1272 565l0 20M1486 262l-1 15M1231 581l1 18M891 546l0 24M664 248l1 33M749 400l0 22M1014 548l0 18M1085 695l0 33M1104 604l1 26M1147 701l2 22M1126 573l0 20M545 678l-2 37M1465 666l1 33M1416 497l0 28M995 469l2 20M1338 401l1 25M1102 726l2 18M1226 723l0 33M839 384l0 35M1090 407l-1 30M323 541l0 22M216 211l0 29M1404 689l2 23M309 574l0 37M1474 627l2 23M1025 387l2 35M727 265l1 16M1012 469l0 29M442 482l0 26M1120 646l2 25M1290 531l-1 37M302 432l1 30M556 729l1 35M1092 269l-1 15M1012 469l0 21M457 290l-2 12M713 675l-2 14M541 300l-1 30M836 339l1 33M507 628l1 14M927 485l0 35M605 547l-2 27M1033 722l0 35M922 589l1 18M600 484l-2 27M646 482l0 29M1220 672l1 38M749 385l0 34M1152 508l0 37M946 367l-1 27M1131 428l-1 31M1205 488l0 33M478 560l-1 25"/></g>
<path d="M371 424V784" fill="none" stroke="#e2442c" stroke-width="3"/><path d="M422.3 424V784" fill="none" stroke="#d42c54" stroke-width="3"/><path d="M369.5 784H423.8" fill="none" stroke="#e83030" stroke-width="3"/>
</g>
<rect x="188" y="87" width="3" height="723.5" fill="#4434a4" fill-opacity="0.7"/>
<rect x="1491" y="87" width="3" height="548" fill="#4434a4" fill-opacity="0.7"/>
<rect x="1491" y="640" width="3" height="106" fill="#3c9c94" fill-opacity="0.7"/>
<rect x="1491" y="750" width="3" height="60.5" fill="#9c9c34" fill-opacity="0.75"/>
<rect x="188" y="807.5" width="1306" height="3" fill="#8c9c40" fill-opacity="0.55"/>
<rect x="188" y="87" width="1306" height="5" fill="#4838a0" fill-opacity="0.6"/>
<rect x="188" y="80.5" width="1306" height="5.5" fill="#eefff6" fill-opacity="0.8"/><rect x="188" y="811.5" width="1306" height="5" fill="#f2fff0" fill-opacity="0.8"/>
<rect x="283" y="368" width="337.5" height="59.5" fill="#e83848"/>
<text x="296" y="414.6" font-size="55" fill="#fffbe0" textLength="305" lengthAdjust="spacing">Whistler 0.70</text>
<text x="1391.5 1413.6 1438.3" y="153.3" font-size="55" fill="#e4f2ff">(a)</text>
<text x="169.5" y="105.3" font-size="56" text-anchor="end" fill="#111">15</text>
<text x="169.5" y="346.5" font-size="56" text-anchor="end" fill="#111">10</text>
<text x="169.5" y="587.6" font-size="56" text-anchor="end" fill="#111">5</text>
<text x="169.5" y="828.8" font-size="56" text-anchor="end" fill="#111">0</text>
<text x="309.3" y="867" font-size="55.5" fill="#111">0.1</text>
<text x="475.3" y="867" font-size="55.5" fill="#111">0.2</text>
<text x="641.3" y="867" font-size="55.5" fill="#111">0.3</text>
<text x="807.3" y="867" font-size="55.5" fill="#111">0.4</text>
<text x="973.3" y="867" font-size="55.5" fill="#111">0.5</text>
<text x="1139.3" y="867" font-size="55.5" fill="#111">0.6</text>
<text x="1305.3" y="867" font-size="55.5" fill="#111">0.7</text>
<text x="746.5" y="952.8" font-size="56" fill="#111">Time / s</text>
<text transform="translate(58.6 626) rotate(-90)" font-size="56.5" textLength="344" lengthAdjust="spacing" fill="#111">Frequency / Hz</text>
<text x="1369.5" y="48.7" font-size="55.5" fill="#111">Power / dB</text>
<text font-size="55.5" fill="#111"><tspan x="188.3" y="66.1">(</tspan><tspan x="210.8" y="70.9" font-size="62">×</tspan><tspan x="251" y="66.1">10</tspan><tspan x="305.3" y="45.4" font-size="33">3</tspan><tspan x="321.1" y="66.1">)</tspan></text>
<rect x="1511" y="86" width="31.5" height="725" fill="url(#cb)"/>
<rect x="1539" y="86" width="3.5" height="725" fill="#5030a0" fill-opacity="0.35"/>
<text x="1551.6" y="108.2" font-size="55.5" textLength="97.8" lengthAdjust="spacing" fill="#111">−3.0</text>
<text x="1551.6" y="180.8" font-size="55.5" textLength="97.8" lengthAdjust="spacing" fill="#111">−3.5</text>
<text x="1551.6" y="253.4" font-size="55.5" textLength="97.8" lengthAdjust="spacing" fill="#111">−4.0</text>
<text x="1551.6" y="326.0" font-size="55.5" textLength="97.8" lengthAdjust="spacing" fill="#111">−4.5</text>
<text x="1551.6" y="398.6" font-size="55.5" textLength="97.8" lengthAdjust="spacing" fill="#111">−5.0</text>
<text x="1551.6" y="471.2" font-size="55.5" textLength="97.8" lengthAdjust="spacing" fill="#111">−5.5</text>
<text x="1551.6" y="543.8" font-size="55.5" textLength="97.8" lengthAdjust="spacing" fill="#111">−6.0</text>
<text x="1551.6" y="616.4" font-size="55.5" textLength="97.8" lengthAdjust="spacing" fill="#111">−6.5</text>
<text x="1551.6" y="689.0" font-size="55.5" textLength="97.8" lengthAdjust="spacing" fill="#111">−7.0</text>
<text x="1551.6" y="761.6" font-size="55.5" textLength="97.8" lengthAdjust="spacing" fill="#111">−7.5</text>
<text x="1551.6" y="834.2" font-size="55.5" textLength="97.8" lengthAdjust="spacing" fill="#111">−8.0</text>
<rect x="1704" y="96" width="6" height="761" fill="#ffffff"/>
<rect x="1711" y="95" width="66" height="4" fill="#dcf8fc"/>
<rect x="1787" y="98" width="948" height="757.3" fill="#f7a698"/>
<rect x="1710.5" y="98" width="77" height="757.3" fill="#4f6db8"/>
<linearGradient id="tr" x1="0" y1="0" x2="1" y2="0"><stop offset="0" stop-color="#4a72c4"/><stop offset="0.45" stop-color="#4a72c4"/><stop offset="0.62" stop-color="#7a6894"/><stop offset="0.8" stop-color="#dca0a4"/><stop offset="1" stop-color="#f7a698"/></linearGradient>
<rect x="1776" y="98" width="17" height="757.3" fill="url(#tr)"/>
<rect x="1711.5" y="105.5" width="64.5" height="6.5" fill="#5062e4"/>
<rect x="1711.5" y="102.5" width="64.5" height="3" fill="#4e68cc"/>
<rect x="1710" y="176" width="77" height="8" fill="#f09c8c"/>
<rect x="1710" y="184" width="77" height="8" fill="#f7a698"/>
<rect x="1710" y="192" width="77" height="48" fill="#e49182"/>
<rect x="1710" y="240" width="77" height="8" fill="#ccb0cc"/>
<rect x="1787" y="176" width="79" height="8" fill="#bdb5e0"/>
<rect x="1787" y="184" width="79" height="8" fill="#d3cbf3"/>
<rect x="1787" y="192" width="79" height="8" fill="#b3d8f3"/>
<rect x="1787" y="200" width="79" height="16" fill="#a0c4e0"/>
<rect x="1787" y="216" width="79" height="8" fill="#8db0ce"/>
<rect x="1787" y="224" width="79" height="8" fill="#a0c4e0"/>
<rect x="1787" y="232" width="79" height="8" fill="#8db0ce"/>
<rect x="1787" y="240" width="79" height="8" fill="#b0b4e8"/>
<rect x="1787" y="248" width="79" height="8" fill="#f4a89c"/>
<rect x="1866" y="176" width="79" height="8" fill="#f598b4"/>
<rect x="1866" y="184" width="79" height="8" fill="#c8d0cc"/>
<rect x="1866" y="192" width="79" height="8" fill="#90b4c8"/>
<rect x="1866" y="200" width="79" height="8" fill="#3c4cd0"/>
<rect x="1866" y="208" width="79" height="16" fill="#3c58a4"/>
<rect x="1866" y="224" width="79" height="8" fill="#4f6db8"/>
<rect x="1866" y="232" width="79" height="8" fill="#b0c8f8"/>
<rect x="1945" y="176" width="79" height="8" fill="#d0d4cc"/>
<rect x="1945" y="184" width="79" height="8" fill="#8474d8"/>
<rect x="1945" y="192" width="79" height="8" fill="#5878cc"/>
<rect x="1945" y="200" width="79" height="24" fill="#6482cc"/>
<rect x="1945" y="224" width="79" height="8" fill="#a0dcf8"/>
<rect x="1945" y="232" width="79" height="8" fill="#e04038"/>
<rect x="1945" y="240" width="79" height="8" fill="#e49182"/>
<rect x="2024" y="176" width="79" height="16" fill="#7896e0"/>
<rect x="2024" y="192" width="79" height="16" fill="#d4ccf4"/>
<rect x="2024" y="208" width="79" height="16" fill="#cccccc"/>
<rect x="2024" y="224" width="79" height="16" fill="#ec6c6c"/>
<rect x="2024" y="240" width="79" height="8" fill="#b0b4e8"/>
<rect x="2024" y="248" width="79" height="8" fill="#f8a894"/>
<rect x="2103" y="176" width="79" height="8" fill="#7cb0dc"/>
<rect x="2103" y="184" width="79" height="8" fill="#deb89c"/>
<rect x="2103" y="192" width="79" height="4" fill="#f0a48c"/>
<rect x="2103" y="196" width="79" height="4" fill="#b46050"/>
<rect x="2103" y="200" width="79" height="8" fill="#f8a090"/>
<rect x="2103" y="224" width="79" height="8" fill="#f09078"/>
<rect x="2103" y="232" width="79" height="8" fill="#9ca4dc"/>
<rect x="2103" y="240" width="79" height="8" fill="#ecc8a8"/>
<rect x="2103" y="248" width="79" height="8" fill="#d8b898"/>
<rect x="2182" y="176" width="79" height="8" fill="#c8d4cc"/>
<rect x="2182" y="184" width="79" height="3" fill="#dc90a0"/>
<rect x="2182" y="187" width="79" height="5" fill="#d06488"/>
<rect x="2182" y="192" width="79" height="5" fill="#f7a698"/>
<rect x="2182" y="197" width="79" height="3" fill="#e88878"/>
<rect x="2182" y="224" width="79" height="8" fill="#d4ccf4"/>
<rect x="2182" y="232" width="79" height="8" fill="#bdb5e0"/>
<rect x="2261" y="176" width="79" height="8" fill="#fc8480"/>
<rect x="2261" y="184" width="79" height="8" fill="#cc4848"/>
<rect x="2261" y="192" width="79" height="8" fill="#f89088"/>
<rect x="2261" y="200" width="79" height="8" fill="#d07c6c"/>
<rect x="2261" y="208" width="79" height="16" fill="#ec6c6c"/>
<rect x="2261" y="224" width="79" height="8" fill="#c4dca8"/>
<rect x="2261" y="232" width="79" height="8" fill="#d07c6c"/>
<rect x="2261" y="240" width="79" height="8" fill="#a8b0e8"/>
<rect x="2261" y="248" width="79" height="8" fill="#f8a894"/>
<rect x="2340" y="176" width="79" height="8" fill="#a82020"/>
<rect x="2340" y="184" width="79" height="8" fill="#f07070"/>
<rect x="2340" y="192" width="79" height="8" fill="#ec6c6c"/>
<rect x="2340" y="200" width="79" height="16" fill="#dc5c5c"/>
<rect x="2340" y="216" width="79" height="8" fill="#e46464"/>
<rect x="2340" y="232" width="79" height="8" fill="#d07c6c"/>
<rect x="2340" y="240" width="79" height="8" fill="#ecc8a8"/>
<rect x="2340" y="248" width="79" height="8" fill="#d8b898"/>
<rect x="2419" y="176" width="79" height="8" fill="#f07474"/>
<rect x="2419" y="184" width="79" height="8" fill="#ecd8b0"/>
<rect x="2419" y="192" width="79" height="8" fill="#e86868"/>
<rect x="2419" y="200" width="79" height="16" fill="#dc5c5c"/>
<rect x="2419" y="216" width="79" height="8" fill="#e46464"/>
<rect x="2419" y="224" width="79" height="8" fill="#f07070"/>
<rect x="2419" y="232" width="79" height="8" fill="#fce0b8"/>
<rect x="2419" y="240" width="79" height="8" fill="#d07c6c"/>
<rect x="2498" y="192" width="79" height="8" fill="#f89c90"/>
<rect x="2498" y="200" width="79" height="24" fill="#c84444"/>
<rect x="2498" y="224" width="79" height="8" fill="#b82c30"/>
<rect x="2498" y="232" width="79" height="8" fill="#ecd0a8"/>
<rect x="2498" y="240" width="79" height="8" fill="#d07c6c"/>
<rect x="2577" y="176" width="79" height="8" fill="#ecc8a8"/>
<rect x="2577" y="184" width="79" height="16" fill="#d8b898"/>
<rect x="2577" y="200" width="79" height="16" fill="#dc5c5c"/>
<rect x="2577" y="216" width="79" height="16" fill="#c84444"/>
<rect x="2577" y="232" width="79" height="8" fill="#f07070"/>
<rect x="2577" y="240" width="79" height="8" fill="#c4c4fc"/>
<rect x="2577" y="248" width="79" height="8" fill="#f8a890"/>
<rect x="2656" y="176" width="79" height="8" fill="#c8d0cc"/>
<rect x="2656" y="184" width="79" height="8" fill="#e080a0"/>
<rect x="2656" y="192" width="79" height="8" fill="#fc8480"/>
<rect x="2656" y="200" width="79" height="16" fill="#ec6c6c"/>
<rect x="2656" y="216" width="79" height="8" fill="#e06464"/>
<rect x="2656" y="224" width="79" height="16" fill="#e49182"/>
<rect x="1866" y="176" width="14" height="8" fill="#c0c0c0"/>
<rect x="2340" y="224" width="8" height="8" fill="#c4dca8"/><rect x="2340" y="240" width="10" height="8" fill="#c4dca8"/>
<rect x="2380" y="248" width="39" height="8" fill="#d8b898"/><rect x="2340" y="248" width="40" height="8" fill="#f7a698"/>
<rect x="1790" y="98" width="945" height="3.4" fill="#6c8048"/>
<rect x="1790" y="101.4" width="945" height="2.4" fill="#c4a884"/>
<rect x="1709" y="98" width="79" height="4.5" fill="#244870"/>
<rect x="1708.7" y="98" width="2.6" height="757.3" fill="#5c5c68" fill-opacity="0.85"/>
<rect x="2733" y="98" width="2.2" height="757.3" fill="#b07850" fill-opacity="0.8"/>
<rect x="1710" y="848.5" width="70" height="2" fill="#6858c8"/><rect x="1710" y="850.5" width="70" height="2.5" fill="#44309c"/><rect x="1710" y="853" width="70" height="2.5" fill="#1c0c5c"/>
<rect x="1780" y="849" width="14" height="6.5" fill="#3c3c40"/>
<rect x="1794" y="848.5" width="941" height="2" fill="#f4b4cc"/><rect x="1794" y="850.5" width="941" height="2.5" fill="#b88494"/><rect x="1794" y="853" width="941" height="2.5" fill="#54343c"/>
<rect x="1794" y="857" width="941" height="6" fill="#dcfff4" fill-opacity="0.9"/>
<text x="2628.1 2648.6 2678.9" y="153" font-size="55" fill="#2a1408">(b)</text>
</svg></body></html>
